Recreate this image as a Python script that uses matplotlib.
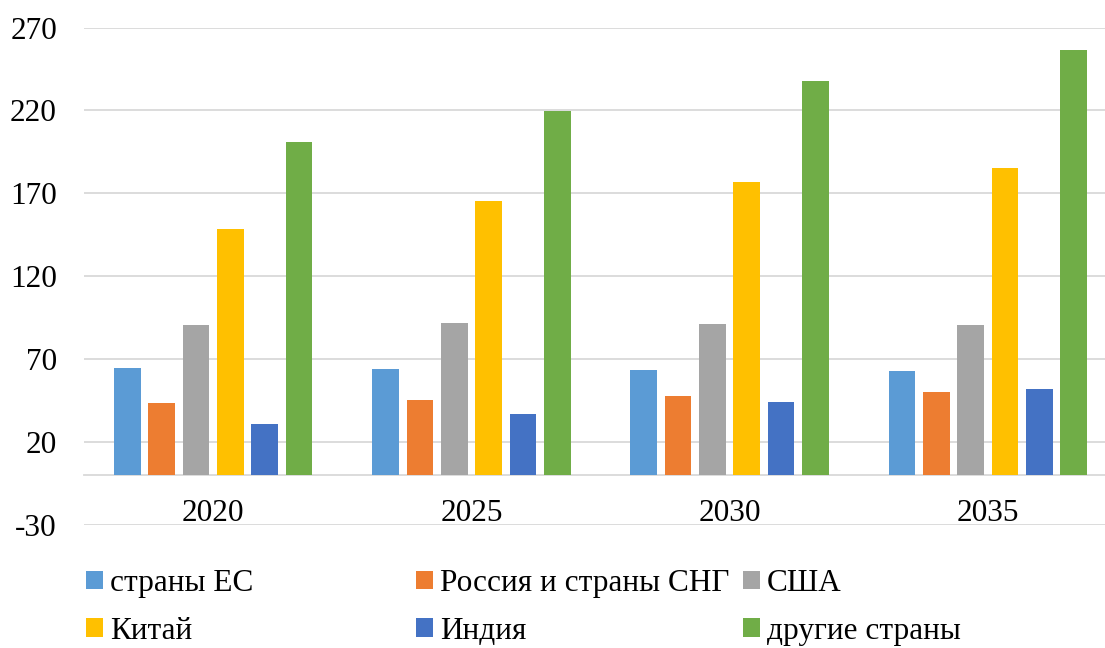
import matplotlib.pyplot as plt
import numpy as np

years = ["2020", "2025", "2030", "2035"]
series_names = ["страны ЕС", "Россия и страны СНГ", "США", "Китай", "Индия", "другие страны"]
eu = [64.5, 63.8, 63.2, 62.4]
russia = [43.3, 45.3, 47.6, 50.1]
usa = [90.2, 91.9, 91.1, 90.2]
china = [148.2, 165.3, 176.9, 185.2]
india = [30.8, 37.0, 43.9, 51.6]
others = [201.0, 219.5, 238.0, 256.8]
y_ticks = [-30, 20, 70, 120, 170, 220, 270]

colors = ["#5B9BD5", "#ED7D31", "#A5A5A5", "#FFC000", "#4472C4", "#70AD47"]

plt.rcParams["font.family"] = ["Liberation Serif", "DejaVu Serif"]
plt.rcParams["axes.unicode_minus"] = False

fig = plt.figure(figsize=(11.05, 6.48), dpi=100)
ax = fig.add_axes([84 / 1105, 1 - 524.5 / 648, 1033 / 1105, 496.8 / 648])

x = np.arange(len(years))
pitch = 0.133
width = 0.103
handles = []
for i, (values, color) in enumerate(zip([eu, russia, usa, china, india, others], colors)):
    bars = ax.bar(x + (i - 2.5) * pitch, values, width, color=color, zorder=3)
    handles.append(bars)

ax.set_xlim(-0.5, len(years) - 0.5)
ax.set_ylim(-30, 270)
ax.set_yticks(y_ticks)
ax.set_xticks(x)
ax.set_xticklabels(years)
ax.tick_params(axis="both", length=0, labelsize=22.5)
ax.tick_params(axis="y", pad=19.5)
ax.tick_params(axis="x", pad=17.5)
ax.yaxis.grid(True, color="#D9D9D9", linewidth=1.3, zorder=0)

for side in ["left", "right", "top"]:
    ax.spines[side].set_visible(False)
ax.spines["bottom"].set_position(("data", 0))
ax.spines["bottom"].set_color("#D9D9D9")
ax.spines["bottom"].set_linewidth(1.3)

# legend: three columns, laid out row by row like Excel
col_x = [86, 416, 743]
for c in range(3):
    fig.legend(
        [handles[c], handles[c + 3]],
        [series_names[c], series_names[c + 3]],
        loc="upper left",
        bbox_to_anchor=(col_x[c] / 1105, 1 - 569 / 648),
        frameon=False,
        fontsize=22.5,
        handlelength=0.55,
        handleheight=0.55,
        handletextpad=0.22,
        labelspacing=0.6,
        borderaxespad=0,
        borderpad=0,
    )

fig.savefig("out.png", dpi=100)
